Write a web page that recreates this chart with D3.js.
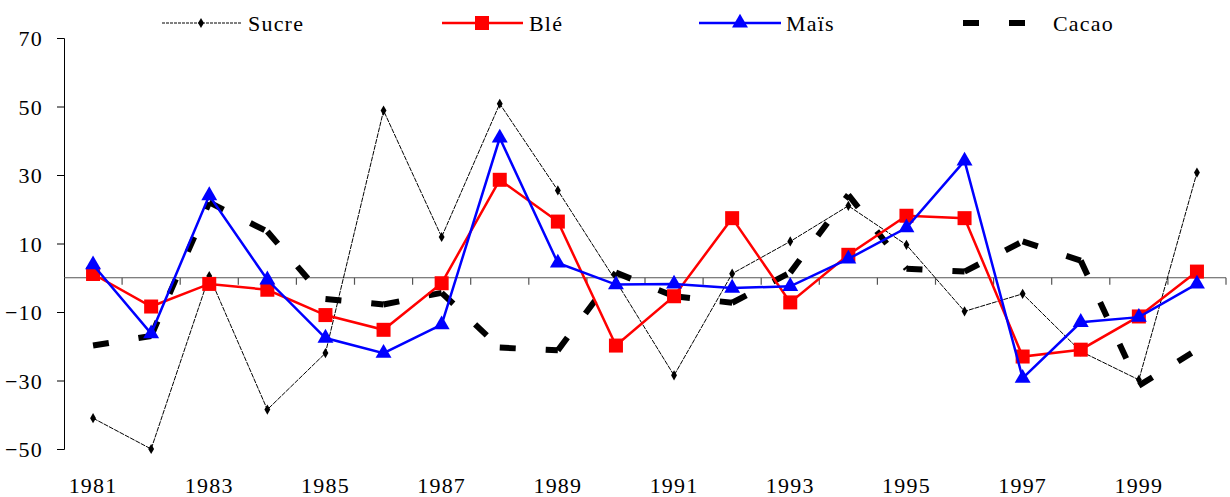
<!DOCTYPE html>
<html><head><meta charset="utf-8">
<script src="https://cdn.jsdelivr.net/npm/d3@7"></script>
<style>body{margin:0;background:#fff}svg text{font-family:"Liberation Serif","Times New Roman",serif;font-size:22px;letter-spacing:1.2px;fill:#000}</style>
</head><body><svg id="c" width="1230" height="497"></svg>
<script>
const years = [1981,1982,1983,1984,1985,1986,1987,1988,1989,1990,1991,1992,1993,1994,1995,1996,1997,1998,1999,2000];
const yTicks = [70,50,30,10,-10,-30,-50];
const xLabels = [1981,1983,1985,1987,1989,1991,1993,1995,1997,1999];
const sucre = [-41,-50,0.5,-38.5,-22,48.8,11.9,50.8,25.5,-1,-28.5,1.2,10.6,21,9.6,-9.8,-4.7,-21.5,-29.8,30.7];
const ble   = [1.1,-8.4,-1.8,-3.5,-10.9,-15.2,-1.6,28.6,16.4,-19.8,-5.4,17.4,-7.2,6.7,18.1,17.4,-23,-21,-11.3,1.8];
const mais  = [3.8,-16.3,24,-0.6,-17.6,-22,-13.7,40.8,4.3,-2,-1.8,-3,-2.5,5.5,14.6,34.1,-29.3,-13,-11.5,-1.8];
const cacao = [-19.8,-17,22,13.5,-6.2,-7.8,-4.4,-20.4,-21.2,1.5,-5.4,-7.3,1.5,24.2,2.6,1.8,10.6,5,-31.5,-21];
const names = ["Sucre","Blé","Maïs","Cacao"];

const svg = d3.select("#c");
const x = d3.scaleBand().domain(years).range([64,1226]).padding(0);
const cx = d => x(d) + x.bandwidth()/2;
const y = d3.scaleLinear().domain([-50,70]).range([449,38]);

// y axis
const ya = svg.append("g").attr("transform","translate(64,0)")
  .call(d3.axisLeft(y).tickValues(yTicks).tickSize(7).tickPadding(14));
ya.select(".domain").attr("stroke","#000");
ya.selectAll("line").attr("stroke","#000");
ya.selectAll("text").attr("font-size",null).attr("font-family",null).attr("dy","0.36em");

// zero line + ticks
svg.append("line").attr("x1",64).attr("x2",1226).attr("y1",y(0)).attr("y2",y(0)).attr("stroke","#555").attr("stroke-width",1.2);
const bounds = years.map(d=>x(d)).concat([x.range()[1]]).slice(1);
svg.selectAll(".xt").data(bounds).join("line").attr("x1",d=>d).attr("x2",d=>d)
  .attr("y1",y(0)).attr("y2",y(0)+7).attr("stroke","#555").attr("stroke-width",1.2);
svg.selectAll(".xl").data(xLabels).join("text").attr("x",d=>cx(d)).attr("y",493)
  .attr("text-anchor","middle").text(d=>d);

const line = d3.line().x(d=>cx(d[0])).y(d=>y(d[1]));
const pts = arr => years.map((d,i)=>[d,arr[i]]);

// cacao: dashed, pattern restarts per segment
d3.pairs(pts(cacao)).forEach(p=>{
  svg.append("path").attr("d",line(p)).attr("fill","none").attr("stroke","#000")
    .attr("stroke-width",6).attr("stroke-dasharray","16,30");
});

// sucre
svg.append("path").attr("d",line(pts(sucre))).attr("fill","none").attr("stroke","#000")
  .attr("stroke-width",1).attr("stroke-dasharray","5,1");
const diamond = d3.symbol().type(d3.symbolDiamond).size(30);
svg.selectAll(".sm").data(pts(sucre)).join("path").attr("d",diamond)
  .attr("transform",d=>`translate(${cx(d[0])},${y(d[1])})`).attr("fill","#000");

// ble
svg.append("path").attr("d",line(pts(ble))).attr("fill","none").attr("stroke","#ff0000").attr("stroke-width",2.5);
svg.selectAll(".bm").data(pts(ble)).join("rect")
  .attr("x",d=>cx(d[0])-7).attr("y",d=>y(d[1])-7).attr("width",14).attr("height",14).attr("fill","#ff0000");

// mais
const tri = d3.symbol().type(d3.symbolTriangle).size(110);
svg.append("path").attr("d",line(pts(mais))).attr("fill","none").attr("stroke","#0000ff").attr("stroke-width",2.5);
svg.selectAll(".mm").data(pts(mais)).join("path").attr("d",tri)
  .attr("transform",d=>`translate(${cx(d[0])},${y(d[1])})`).attr("fill","#0000ff");

// legend
const ly = 23;
const lg = svg.append("g");
lg.append("line").attr("x1",162).attr("x2",241).attr("y1",ly).attr("y2",ly).attr("stroke","#000").attr("stroke-dasharray","3,1");
lg.append("path").attr("d",diamond).attr("transform",`translate(201,${ly})`);
lg.append("text").attr("x",248).attr("y",ly+8).text(names[0]);
lg.append("line").attr("x1",442).attr("x2",523).attr("y1",ly).attr("y2",ly).attr("stroke","#ff0000").attr("stroke-width",2.5);
lg.append("rect").attr("x",475).attr("y",ly-7).attr("width",14).attr("height",14).attr("fill","#ff0000");
lg.append("text").attr("x",529).attr("y",ly+8).text(names[1]);
lg.append("line").attr("x1",699).attr("x2",781).attr("y1",ly).attr("y2",ly).attr("stroke","#0000ff").attr("stroke-width",2.5);
lg.append("path").attr("d",tri).attr("transform",`translate(740,${ly})`).attr("fill","#0000ff");
lg.append("text").attr("x",786).attr("y",ly+8).text(names[2]);
lg.append("line").attr("x1",963).attr("x2",1025).attr("y1",ly).attr("y2",ly).attr("stroke","#000").attr("stroke-width",6).attr("stroke-dasharray","16,30");
lg.append("text").attr("x",1053).attr("y",ly+8).text(names[3]);
</script></body></html>
